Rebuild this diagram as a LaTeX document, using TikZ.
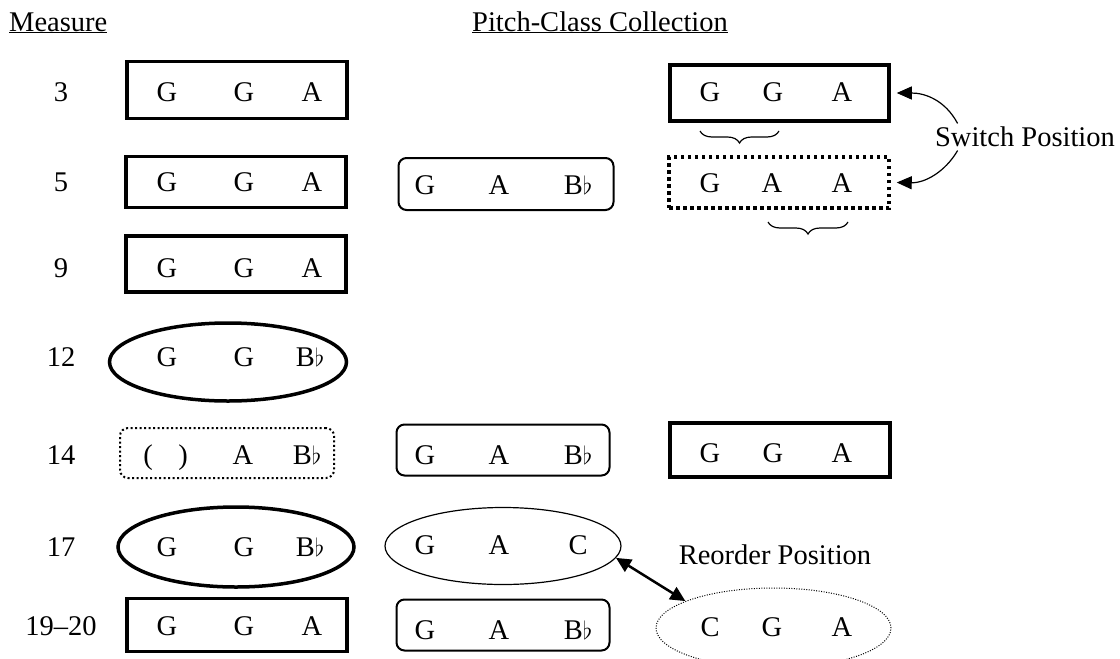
\documentclass[tikz,border=0pt]{standalone}
\usepackage{fontspec}
\setmainfont{Liberation Serif}
\usetikzlibrary{shapes.geometric,arrows.meta,decorations.pathreplacing}

\tikzset{
  pc/.style={inner sep=0pt,text height=19pt,text depth=0pt},
  solidbox/.style={draw,line width=3.5pt,minimum width=220pt,minimum height=54pt,inner sep=0pt},
  setbox/.style={draw,line width=2pt,rounded corners=8pt,minimum width=213pt,minimum height=51pt,inner sep=0pt},
  dotbox/.style={draw,line width=3.5pt,dash pattern=on 3.5pt off 3.5pt,minimum width=220pt,minimum height=51pt,inner sep=0pt},
  dotround/.style={draw,line width=2pt,dash pattern=on 2pt off 2.5pt,rounded corners=8pt,minimum width=214pt,minimum height=50pt,inner sep=0pt},
  boldoval/.style={ellipse,draw,line width=3.5pt,inner sep=0pt},
  thinoval/.style={ellipse,draw,line width=1.2pt,minimum width=236pt,minimum height=77pt,inner sep=0pt},
  dotoval/.style={ellipse,draw,line width=1pt,dash pattern=on 1pt off 1.5pt,minimum width=235pt,minimum height=80pt,inner sep=0pt},
  underbrace/.style={decorate,decoration={brace,mirror,amplitude=12pt},line width=1.2pt},
  swarrow/.style={-{Triangle[length=15pt,width=13pt]},line width=1.2pt},
  reorderarrow/.style={{Triangle[length=15pt,width=14pt]}-{Triangle[length=15pt,width=14pt]},line width=2.5pt}
}

\begin{document}
\begin{tikzpicture}[x=1pt,y=-1pt,font=\fontsize{28.5}{34}\selectfont]
\useasboundingbox (0,0) rectangle (1120,659);

% headings
\node[anchor=base west,inner sep=0pt] (measurehead) at (9,31) {\underline{Measure}};
\node[anchor=base,inner sep=0pt] (pchead) at (600,31) {\underline{Pitch-Class Collection}};

% measure numbers
\begin{scope}[every node/.style={pc}]
  \node (n3)  at (61,92)  {3};
  \node (n5)  at (61,182) {5};
  \node (n9)  at (61,268) {9};
  \node (n12) at (61,357) {12};
  \node (n14) at (61,455) {14};
  \node (n17) at (61,547) {17};
  \node (n19) at (61,626) {19--20};
\end{scope}

% first column
\node[solidbox,minimum height=57pt] (a3) at (237,90) {};
\node[solidbox,minimum height=51pt] (a5) at (236,182) {};
\node[solidbox,minimum height=56pt] (a9) at (236,264) {};
\node[boldoval,minimum width=237pt,minimum height=78pt] (a12) at (228,362) {};
\node[dotround] (a14) at (227,453) {};
\node[boldoval,minimum width=236pt,minimum height=80pt] (a17) at (236,547) {};
\node[solidbox,minimum height=53pt] (a19) at (237,625) {};

\foreach \r/\y in {3/92,5/182,9/268,19/626}
  \foreach \x/\t [count=\i] in {167/G,244/G,312/A}
    \node[pc] (a\r-\i) at (\x,\y) {\t};
\foreach \r/\y in {12/357,17/547}
  \foreach \x/\t [count=\i] in {167/G,244/G,310/B$\flat$}
    \node[pc] (a\r-\i) at (\x,\y) {\t};
\node[pc] (a14-1) at (148,455) {(};
\node[pc] (a14-2) at (183,455) {)};
\node[pc] (a14-3) at (243,455) {A};
\node[pc] (a14-4) at (307,455) {B$\flat$};

% second column
\node[setbox,minimum width=215pt,minimum height=52pt] (b5) at (506,184) {};
\node[setbox] (b14) at (503,450) {};
\node[thinoval] (b17) at (503,546) {};
\node[setbox] (b19) at (503,625) {};

\foreach \r/\y in {5/185,14/455,19/630}
  \foreach \x/\t [count=\i] in {425/G,499/A,578/B$\flat$}
    \node[pc] (b\r-\i) at (\x,\y) {\t};
\foreach \x/\t [count=\i] in {425/G,499/A,578/C}
  \node[pc] (b17-\i) at (\x,545) {\t};

% third column
\node[solidbox,minimum width=219pt,minimum height=56pt] (c3) at (779.5,93) {};
\node[dotbox] (c5) at (779,182.5) {};
\node[solidbox] (c14) at (780,450) {};
\node[dotoval] (c19) at (773.5,628) {};

\foreach \r/\y in {3/92,14/453}
  \foreach \x/\t [count=\i] in {710/G,773/G,842/A}
    \node[pc] (c\r-\i) at (\x,\y) {\t};
\foreach \x/\t [count=\i] in {710/G,772/A,842/A}
  \node[pc] (c5-\i) at (\x,183) {\t};
\foreach \x/\t [count=\i] in {710/C,772/G,842/A}
  \node[pc] (c19-\i) at (\x,627) {\t};

% braces under the switched pair
\coordinate (br1a) at (700,131);
\coordinate (br1b) at (779,131);
\coordinate (br2a) at (768,222);
\coordinate (br2b) at (848,222);
\draw[underbrace] (br1a) -- (br1b);
\draw[underbrace] (br2a) -- (br2b);

% labels and arrows
\node (switch) at (1025,137) {Switch Position};
\node (reorder) at (775,555) {Reorder Position};

\draw[swarrow] ([xshift=26pt]switch.north west) .. controls (945,100) and (925,93) .. ([xshift=6pt]c3.east);
\draw[swarrow] ([xshift=26pt]switch.south west) .. controls (945,172) and (925,183) .. ([xshift=6pt]c5.east);
\draw[reorderarrow] (b17.-6) -- (c19.163);

\end{tikzpicture}
\end{document}
